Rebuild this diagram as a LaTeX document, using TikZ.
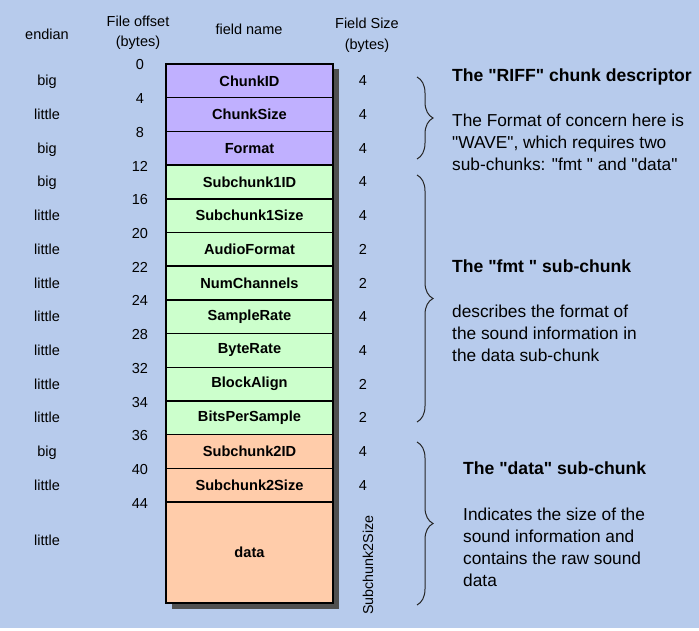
\documentclass[tikz,border=0pt]{standalone}
\usepackage{fontspec}
\setmainfont{Liberation Sans}[Ligatures=TeXOff]
\usetikzlibrary{decorations.pathreplacing}
\definecolor{bgc}{RGB}{183,203,236}
\definecolor{purp}{RGB}{192,176,255}
\definecolor{grn}{RGB}{204,255,204}
\definecolor{orng}{RGB}{255,204,170}
\definecolor{shadowc}{RGB}{80,80,80}
\begin{document}
\begin{tikzpicture}[x=1pt,y=-1pt,
  lbl/.style={font=\fontsize{14.5}{17}\selectfont, text height=10pt, text depth=0pt, inner sep=0pt},
  hdr/.style={font=\fontsize{14.5}{20.5}\selectfont, align=center, inner sep=0pt},
  fld/.style={draw=black, line width=1.5pt, minimum width=167pt, minimum height=33.7pt, inner sep=0pt, font=\fontsize{14.6}{16}\selectfont\bfseries},
  desc/.style={font=\fontsize{17.3}{20}\selectfont, anchor=west, inner sep=0pt, text height=12pt, text depth=0pt},
  ttl/.style={font=\fontsize{17.6}{20}\selectfont\bfseries, anchor=west, inner sep=0pt, text height=12.5pt, text depth=0pt},
  brc/.style={decorate, decoration={brace, amplitude=16pt}, line width=1pt, draw=black!85}]
\fill[bgc] (0,0) rectangle (699,631);
\fill[white] (0,628) rectangle (699,631);
\clip (0,0) rectangle (699,631);
% headers
\node[hdr] (hEnd) at (47,34) {endian};
\node[hdr] (hOff) at (138,33) {File offset\\(bytes)};
\node[hdr] (hName) at (249,29) {field name};
\node[hdr] (hSize) at (367,35.5) {Field Size\\(bytes)};
% shadow
\fill[shadowc] (172,69) rectangle (339,609);
% fields
\node[fld, fill=purp] (f1) at (249.5,80.85) {ChunkID};
\node[fld, fill=purp] (f2) at (249.5,114.55) {ChunkSize};
\node[fld, fill=purp] (f3) at (249.5,148.25) {Format};
\node[fld, fill=grn] (f4) at (249.5,181.95) {Subchunk1ID};
\node[fld, fill=grn] (f5) at (249.5,215.65) {Subchunk1Size};
\node[fld, fill=grn] (f6) at (249.5,249.35) {AudioFormat};
\node[fld, fill=grn] (f7) at (249.5,283.05) {NumChannels};
\node[fld, fill=grn] (f8) at (249.5,316.75) {SampleRate};
\node[fld, fill=grn] (f9) at (249.5,350.45) {ByteRate};
\node[fld, fill=grn] (f10) at (249.5,384.15) {BlockAlign};
\node[fld, fill=grn] (f11) at (249.5,417.85) {BitsPerSample};
\node[fld, fill=orng] (f12) at (249.5,451.55) {Subchunk2ID};
\node[fld, fill=orng] (f13) at (249.5,485.25) {Subchunk2Size};
\node[fld, fill=orng, minimum height=101pt] (f14) at (249.5,552.6) {data};
% endian
\foreach \t [count=\i] in {big,little,big,big,little,little,little,little,little,little,little,big,little}
  \node[lbl] (e\i) at (47,{64+33.7*(\i-0.5)}) {\t};
\node[lbl] (e14) at (47,540) {little};
% offsets
\foreach \t [count=\i] in {0,4,8,12,16,20,22,24,28,32,34,36,40,44}
  \node[lbl] (o\i) at (140,{64+33.7*(\i-1)+1}) {\t};
% sizes
\foreach \t [count=\i] in {4,4,4,4,4,2,2,4,4,2,2,4,4}
  \node[lbl] (s\i) at (363,{64+33.7*(\i-0.5)}) {\t};
\node[font=\fontsize{14.3}{16}\selectfont, rotate=90, inner sep=0pt] (s14) at (368,565) {Subchunk2Size};
% braces
\coordinate (b1t) at (417,77);
\coordinate (b1b) at (417,159);
\coordinate (b2t) at (417,175);
\coordinate (b2b) at (417,422);
\coordinate (b3t) at (417,442);
\coordinate (b3b) at (417,605);
\draw[brc] (b1t) -- (b1b);
\draw[brc] (b2t) -- (b2b);
\draw[brc] (b3t) -- (b3b);
% descriptions
\node[ttl] (t1) at (452,75) {The "RIFF" chunk descriptor};
\node[desc] (d1a) at (452,121) {The Format of concern here is};
\node[desc] (d1b) at (452,143) {"WAVE", which requires two};
\node[desc] (d1c) at (452,165) {sub-chunks: "fmt " and "data"};
\node[ttl] (t2) at (452,266) {The "fmt " sub-chunk};
\node[desc] (d2a) at (452,311) {describes the format of};
\node[desc] (d2b) at (452,333) {the sound information in};
\node[desc] (d2c) at (452,355) {the data sub-chunk};
\node[ttl] (t3) at (463,468) {The "data" sub-chunk};
\node[desc] (d3a) at (463,514) {Indicates the size of the};
\node[desc] (d3b) at (463,536) {sound information and};
\node[desc] (d3c) at (463,558) {contains the raw sound};
\node[desc] (d3d) at (463,580) {data};
\end{tikzpicture}
\end{document}
